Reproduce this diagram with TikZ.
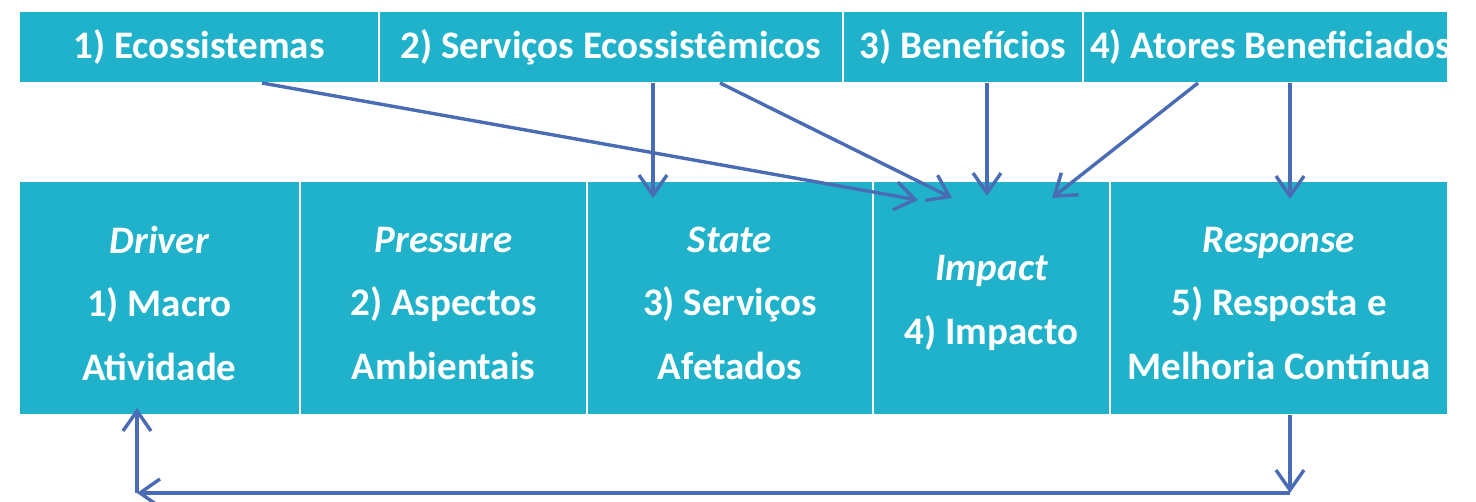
\documentclass[tikz,border=0pt]{standalone}
\usepackage{fontspec}
\setmainfont{Carlito}
\usetikzlibrary{arrows.meta,calc}
\definecolor{cellfill}{RGB}{32,178,202}
\definecolor{arrowblue}{RGB}{74,108,180}
\begin{document}
\begin{tikzpicture}[x=1pt,y=1pt,
  cell/.style={draw=white,line width=2pt,fill=cellfill,inner sep=0pt,outer sep=0pt},
  celltext/.style={text=white,font=\fontsize{39}{63.5}\selectfont\bfseries,align=center,inner sep=0pt},
  arr/.style={draw=arrowblue,line width=3.4pt,-{Straight Barb[length=20pt,width=28pt,line width=3.4pt]}}]
\useasboundingbox[fill=white] (0,0) rectangle (1476,501);
% top row
\node[cell,minimum width=360pt,minimum height=72pt] (eco) at (199,454) {};
\node[cell,minimum width=464pt,minimum height=72pt] (serv) at (611,454) {};
\node[cell,minimum width=240pt,minimum height=72pt] (ben) at (963,454) {};
\node[cell,minimum width=365pt,minimum height=72pt] (ator) at (1265.5,454) {};
\node[celltext] (ecoT) at (eco.center) {1) Ecossistemas};
\node[celltext] (servT) at (serv.center) {2) Serviços Ecossistêmicos};
\node[celltext] (benT) at (ben.center) {3) Benefícios};
\begin{scope}
\clip (ator.south west) rectangle (ator.north east);
\node[celltext,anchor=west] (atorT) at ([xshift=7pt]ator.west) {4) Atores Beneficiados};
\end{scope}
% bottom row
\node[cell,minimum width=281pt,minimum height=234pt] (drv) at (159.5,203) {};
\node[cell,minimum width=287pt,minimum height=234pt] (prs) at (443.5,203) {};
\node[cell,minimum width=286pt,minimum height=234pt] (sta) at (730,203) {};
\node[cell,minimum width=237pt,minimum height=234pt] (imp) at (991.5,203) {};
\node[cell,minimum width=338pt,minimum height=234pt] (res) at (1279,203) {};
\node[celltext] (drvT) at ([yshift=-5pt]drv.center) {\textit{Driver}\\1) Macro\\Atividade};
\node[celltext] (prsT) at ([yshift=-5pt]prs.center) {\textit{Pressure}\\2) Aspectos\\Ambientais};
\node[celltext] (staT) at ([yshift=-5pt]sta.center) {\textit{State}\\3) Serviços\\Afetados};
\node[celltext] (impT) at ([yshift=-5pt]imp.center) {\textit{Impact}\\4) Impacto};
\node[celltext] (resT) at ([yshift=-5pt]res.center) {\textit{Response}\\5) Resposta e\\Melhoria Contínua};
% arrows top -> bottom
\draw[arr] ([xshift=63pt]eco.south) -- ([xshift=-73.5pt,yshift=-19pt]imp.north);
\draw[arr] ([xshift=109pt]serv.south) -- ([xshift=-39.5pt,yshift=-17pt]imp.north);
\draw[arr] ([xshift=-77pt]sta.north |- serv.south) -- ([xshift=-77pt,yshift=-17pt]sta.north);
\draw[arr] ([xshift=24pt]ben.south) -- ([xshift=-4.5pt,yshift=-15pt]imp.north);
\draw[arr] ([xshift=-67.5pt]ator.south) -- ([xshift=60.5pt,yshift=-17pt]imp.north);
\draw[arr] ([xshift=24.5pt]ator.south) -- ([xshift=11pt,yshift=-18pt]res.north);
% feedback loop
\coordinate (cr) at ([xshift=11pt,yshift=-78pt]res.south);
\coordinate (cl) at ([xshift=-22.5pt,yshift=-78pt]drv.south);
\draw[arr] ([xshift=11pt]res.south) -- (cr);
\draw[arr] (cr) -- (cl);
\draw[arr] (cl) -- ([xshift=-22.5pt,yshift=7pt]drv.south);
\end{tikzpicture}
\end{document}
